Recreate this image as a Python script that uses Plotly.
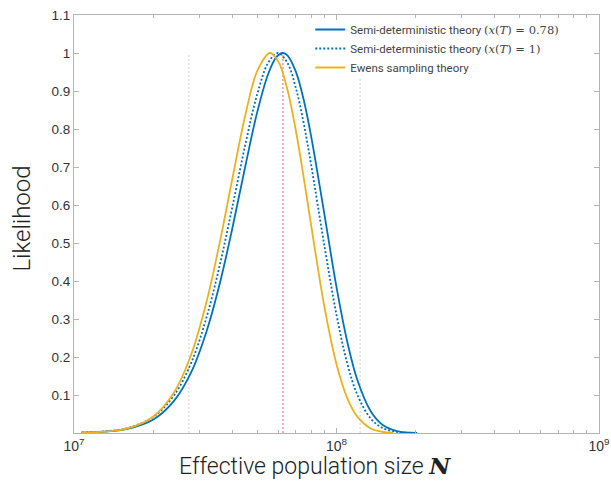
import plotly.graph_objects as go

# Likelihood profiles over effective population size N
N_semi = [1.07e7, 1.3e7, 1.6e7, 2.0e7, 2.4e7, 2.8e7, 3.2e7, 3.6e7, 4.0e7, 4.5e7,
          5.0e7, 5.5e7, 5.9e7, 6.24e7, 6.5e7, 7.0e7, 7.5e7, 8.0e7, 9.0e7, 1.0e8,
          1.1e8, 1.2e8, 1.35e8, 1.5e8, 1.7e8, 2.03e8]
L_semi = [0.001, 0.0034, 0.011, 0.035, 0.084, 0.161, 0.268, 0.396, 0.535, 0.704,
          0.847, 0.946, 0.989, 1.0, 0.994, 0.951, 0.877, 0.782, 0.574, 0.384,
          0.239, 0.140, 0.057, 0.021, 0.005, 0.0004]

N_full = [1.07e7, 1.3e7, 1.6e7, 2.0e7, 2.4e7, 2.8e7, 3.2e7, 3.6e7, 4.0e7, 4.5e7,
          5.0e7, 5.5e7, 5.98e7, 6.5e7, 7.0e7, 7.5e7, 8.0e7, 9.0e7, 1.0e8, 1.1e8,
          1.2e8, 1.35e8, 1.5e8, 1.7e8, 1.86e8]
L_full = [0.0013, 0.0041, 0.013, 0.042, 0.098, 0.186, 0.305, 0.445, 0.591, 0.761,
          0.894, 0.975, 1.0, 0.974, 0.908, 0.815, 0.707, 0.491, 0.311, 0.182,
          0.101, 0.038, 0.013, 0.0027, 0.0007]

N_ewens = [1.07e7, 1.3e7, 1.6e7, 2.0e7, 2.4e7, 2.8e7, 3.2e7, 3.6e7, 4.0e7, 4.5e7,
           5.0e7, 5.58e7, 6.0e7, 6.5e7, 7.0e7, 7.5e7, 8.0e7, 9.0e7, 1.0e8, 1.1e8,
           1.2e8, 1.35e8, 1.5e8, 1.64e8]
L_ewens = [0.001, 0.0035, 0.012, 0.043, 0.106, 0.208, 0.346, 0.505, 0.665, 0.838,
           0.954, 1.0, 0.978, 0.904, 0.796, 0.672, 0.548, 0.331, 0.181, 0.091,
           0.043, 0.012, 0.0032, 0.0009]

# Interval bounds and point estimate (vertical guide lines)
ci_N = [2.74e7, 1.23e8]
ci_top = [1.0, 0.937]
mle_N = 6.25e7
mle_top = 1.0

SERIF = '<span style="font-family:DejaVu Serif">'
labels = [
    f'Semi-deterministic theory {SERIF}(<i>x</i>(<i>T</i>) = 0.78)</span>',
    f'Semi-deterministic theory {SERIF}(<i>x</i>(<i>T</i>) = 1)</span>',
    'Ewens sampling theory',
]

y_ticks = [0.1, 0.2, 0.3, 0.4, 0.5, 0.6, 0.7, 0.8, 0.9, 1.0, 1.1]
y_ticktext = ["0.1", "0.2", "0.3", "0.4", "0.5", "0.6", "0.7", "0.8", "0.9", "1", "1.1"]
x_ticks = [1e7, 1e8, 1e9]
x_ticktext = ["10<sup>7</sup>", "10<sup>8</sup>", "10<sup>9</sup>"]
x_minor = [k * 10 ** e for e in (7, 8) for k in range(2, 10)]

x_title = f"Effective population size {SERIF}<b><i>N</i></b></span>"
y_title = "Likelihood"

BLUE = "#0072BD"
YELLOW = "#EDB120"
AXIS = "#b4b4b4"

fig = go.Figure()

for n, top in zip(ci_N, ci_top):
    fig.add_trace(go.Scatter(x=[n, n], y=[0, top], mode="lines", showlegend=False,
                             line=dict(color="#cfcfcf", width=1, dash="2px,2px"),
                             hoverinfo="skip"))
fig.add_trace(go.Scatter(x=[mle_N, mle_N], y=[0, mle_top], mode="lines", showlegend=False,
                         line=dict(color="#e98a8a", width=1.3, dash="2px,2px"),
                         hoverinfo="skip"))

fig.add_trace(go.Scatter(x=N_semi, y=L_semi, mode="lines", name=labels[0],
                         line=dict(color=BLUE, width=1.8, shape="spline")))
fig.add_trace(go.Scatter(x=N_full, y=L_full, mode="lines", name=labels[1],
                         line=dict(color=BLUE, width=1.8, dash="2px,2px", shape="spline")))
fig.add_trace(go.Scatter(x=N_ewens, y=L_ewens, mode="lines", name=labels[2],
                         line=dict(color=YELLOW, width=1.8, shape="spline")))

title_font = dict(family="Roboto", size=23, color="#222222", weight=300)

fig.update_layout(
    width=611, height=493,
    margin=dict(l=74, r=12, t=15, b=60, autoexpand=False),
    paper_bgcolor="white", plot_bgcolor="white",
    font=dict(family="Liberation Sans, Arial", color="#333333"),
    showlegend=True,
    legend=dict(x=0.45, y=1.0, xanchor="left", yanchor="top",
                bgcolor="rgba(0,0,0,0)", borderwidth=0,
                font=dict(family="Roboto", size=11.5, color="#444444"),
                tracegroupgap=0, itemwidth=30),
    annotations=[
        dict(text=x_title, xref="paper", yref="paper", x=0.459, y=-0.08,
             xanchor="center", yanchor="middle", showarrow=False, font=title_font),
        dict(text=y_title, xref="paper", yref="paper", x=-0.099, y=0.513,
             xanchor="center", yanchor="middle", showarrow=False, textangle=-90,
             font=dict(title_font, size=24)),
    ],
)

fig.update_xaxes(
    type="log", range=[7, 9], automargin=False,
    tickvals=x_ticks, ticktext=x_ticktext,
    ticks="inside", ticklen=5, tickcolor=AXIS, tickwidth=1,
    minor=dict(tickvals=x_minor, ticks="inside", ticklen=3, tickcolor=AXIS, tickwidth=1),
    showline=True, linecolor=AXIS, linewidth=1, mirror="ticks",
    showgrid=False, zeroline=False,
    tickfont=dict(family="Liberation Sans, Arial", size=14, color="#333333"),
)
fig.update_yaxes(
    range=[0, 1.1], automargin=False,
    tickvals=y_ticks, ticktext=y_ticktext,
    ticks="inside", ticklen=5, tickcolor=AXIS, tickwidth=1,
    showline=True, linecolor=AXIS, linewidth=1, mirror="ticks",
    showgrid=False, zeroline=False,
    tickfont=dict(family="Liberation Sans, Arial", size=13.5, color="#333333"),
)

fig.write_html("out.html")
